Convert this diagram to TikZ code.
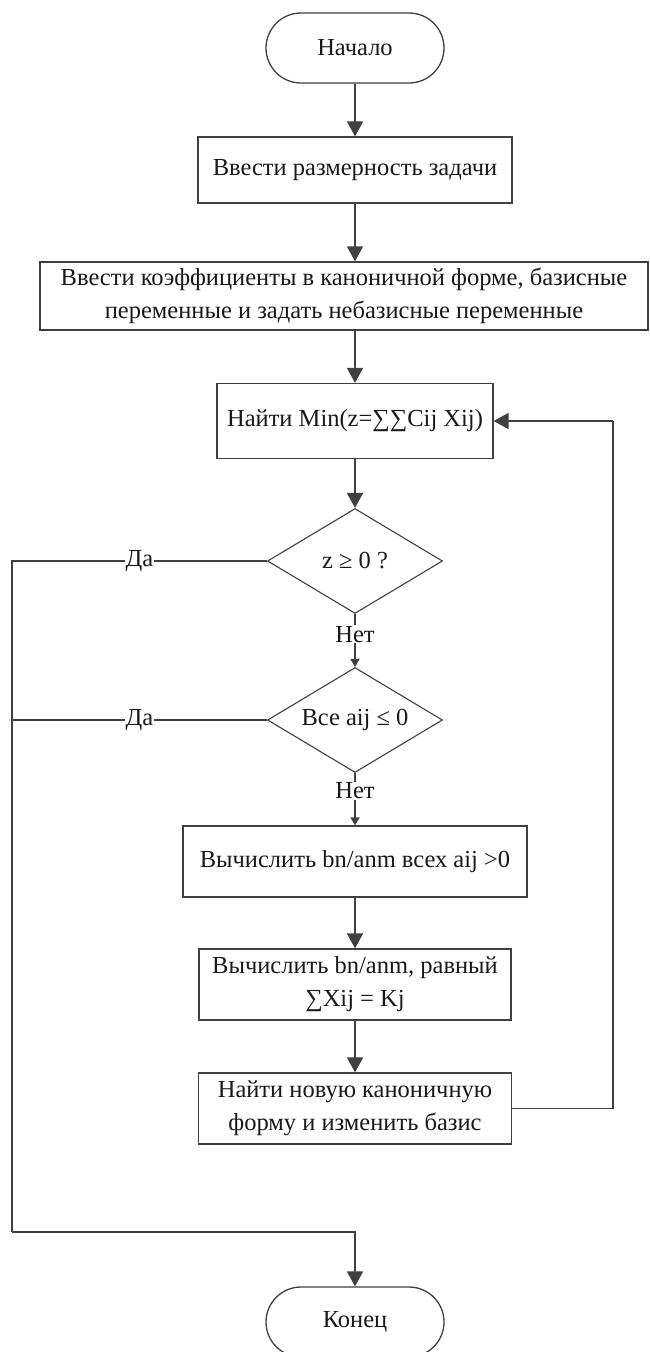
\documentclass[tikz,border=0pt]{standalone}
\usepackage{fontspec}
\setmainfont{Liberation Serif}
\usetikzlibrary{shapes.misc,shapes.geometric,arrows.meta}
\begin{document}
\begin{tikzpicture}[x=1pt,y=-1pt,
  font=\fontsize{24.5}{33}\selectfont,
  every node/.style={text=black!90},
  proc/.style={draw=black!75,line width=1.3pt,fill=white,align=center,inner sep=0pt},
  term/.style={rounded rectangle,draw=black!75,line width=1.3pt,fill=white,minimum width=178pt,minimum height=70pt,inner sep=0pt},
  decision/.style={diamond,draw=black!75,line width=1.1pt,fill=white,aspect=1.67,inner sep=0pt,minimum width=175pt,minimum height=105pt},
  flow/.style={draw=black!75,line width=1.8pt,-{Triangle[width=16pt,length=15pt]}},
  link/.style={draw=black!75,line width=1.8pt},
  small/.style={draw=black!75,line width=1.3pt,-{Triangle[width=9pt,length=8pt]}},
  lbl/.style={fill=white,inner sep=1pt}]
\useasboundingbox (0,0) rectangle (650,1352);

% blocks of the algorithm
\node[term] (start) at (355,48) {Начало};
\node[proc,minimum width=314pt,minimum height=66pt] (b1) at (355,170) {Ввести размерность задачи};
\node[proc,minimum width=608pt,minimum height=68pt] (b2) at (344,296)
  {Ввести коэффициенты в каноничной форме, базисные\\переменные и задать небазисные переменные};
\node[proc,minimum width=276pt,minimum height=75pt] (b3) at (355,421) {Найти Min(z=∑∑Cij Xij)};
\node[decision] (d1) at (355,561) {z ≥ 0 ?};
\node[decision] (d2) at (355,720) {Все aij ≤ 0};
\node[proc,minimum width=344pt,minimum height=71pt] (b4) at (355,861.5) {Вычислить bn/anm всех aij >0};
\node[proc,minimum width=312pt,minimum height=71pt] (b5) at (355,984.5) {Вычислить bn/anm, равный\\∑Xij = Kj};
\node[proc,minimum width=313pt,minimum height=71pt] (b6) at (355,1108.5) {Найти новую каноничную\\форму и изменить базис};
\node[term] (end) at (355,1322) {Конец};

% turning points of the side lines
\coordinate (l1) at (12,561);
\coordinate (l2) at (12,720);
\coordinate (l3) at (12,1232);
\coordinate (l4) at (355,1232);
\coordinate (r1) at (613,1108.5);
\coordinate (r2) at (613,421);

% main flow
\path[flow] (start) -- (b1);
\path[flow] (b1.south) -- (b1.south |- b2.north);
\path[flow] (b1.south |- b2.south) -- (b3.north);
\path[flow] (b3) -- (d1);
\path[small] (d1.south) -- node[lbl,pos=0.38] {Нет} (d2.north);
\path[small] (d2.south) -- node[lbl,pos=0.34] {Нет} (b4.north);
\path[flow] (b4) -- (b5);
\path[flow] (b5) -- (b6);

% loop back to the minimum search
\path[link] (b6.east) -- (r1) -- (r2);
\path[flow] (r2) -- (b3.east);

% exits to the end
\path[link] (d1.west) -- node[lbl] {Да} (l1) -- (l3);
\path[link] (d2.west) -- node[lbl] {Да} (l2);
\path[flow] (l3) -- (l4) -- (end.north);
\end{tikzpicture}
\end{document}
